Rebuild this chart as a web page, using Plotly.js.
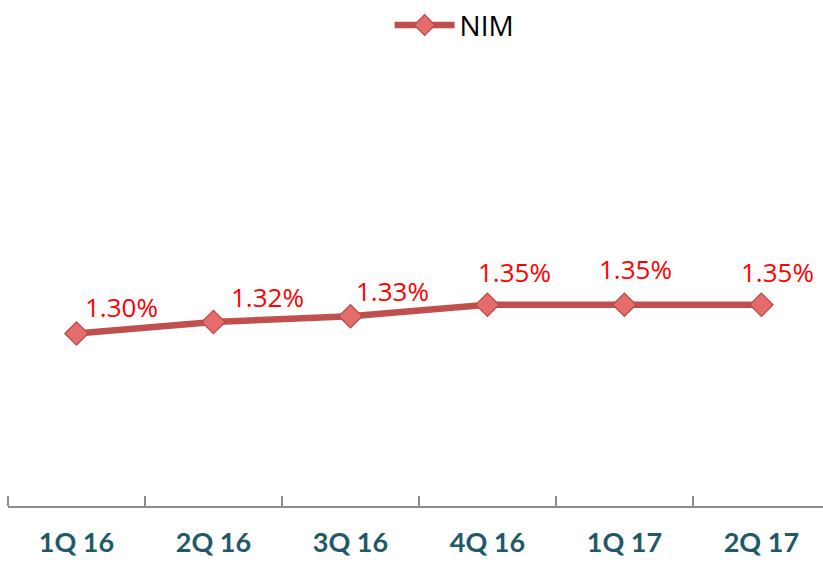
<!DOCTYPE html>
<html>
<head>
<meta charset="utf-8">
<script src="https://cdn.plot.ly/plotly-3.0.1.min.js"></script>
<style>html,body{margin:0;padding:0;background:#fff;}#chart{width:823px;height:562px;}</style>
</head>
<body>
<div id="chart"></div>
<script>
const categories = ["1Q 16", "2Q 16", "3Q 16", "4Q 16", "1Q 17", "2Q 17"];
const nimValues = [1.30, 1.32, 1.33, 1.35, 1.35, 1.35];
const nimLabels = ["1.30%", "1.32%", "1.33%", "1.35%", "1.35%", "1.35%"];
const seriesName = "NIM";

// label placement offsets (pixels) relative to each point
const labelShiftX = [45, 54, 42, 27, 11, 16];
const labelShiftY = [27, 25, 25, 33, 36, 33];

const trace = {
  type: "scatter",
  mode: "lines+markers",
  name: seriesName,
  x: categories,
  y: nimValues,
  line: {color: "#C0504D", width: 6.5},
  marker: {symbol: "diamond", size: 18, color: "#E46C6A", line: {color: "#B84A47", width: 1.2}},
  hoverinfo: "skip"
};

const annotations = categories.map((c, i) => ({
  x: c, y: nimValues[i], xref: "x", yref: "y",
  text: nimLabels[i], showarrow: false,
  xshift: labelShiftX[i], yshift: labelShiftY[i],
  font: {family: "Open Sans, sans-serif", size: 26, color: "#FF0000"}
}));

const layout = {
  width: 823, height: 562,
  margin: {l: 8, r: 0, t: 41, b: 56},
  paper_bgcolor: "#fff", plot_bgcolor: "#fff",
  showlegend: true,
  legend: {orientation: "h", x: 0.548, xanchor: "center", y: 1.045, yanchor: "middle",
           itemwidth: 60,
           font: {family: "Open Sans, sans-serif", size: 28, color: "#000"}},
  xaxis: {
    type: "category", range: [-0.5, 5.45],
    showline: true, linecolor: "#8C8C8C", linewidth: 2,
    ticks: "inside", tickson: "boundaries", ticklen: 10, tickwidth: 2, tickcolor: "#8C8C8C",
    showgrid: false, zeroline: false,
    ticklabelstandoff: 12,
    tickfont: {family: "Lato, sans-serif", size: 27, color: "#215968", weight: "bold"}
  },
  yaxis: {range: [1.0, 1.8], visible: false, showgrid: false, zeroline: false},
  shapes: [{type: "line", xref: "paper", yref: "paper", x0: 0, x1: 0, y0: 0, y1: 10 / 465,
            line: {color: "#8C8C8C", width: 2}}],
  annotations: annotations
};

Plotly.newPlot("chart", [trace], layout, {displayModeBar: false, staticPlot: true});
</script>
</body>
</html>
